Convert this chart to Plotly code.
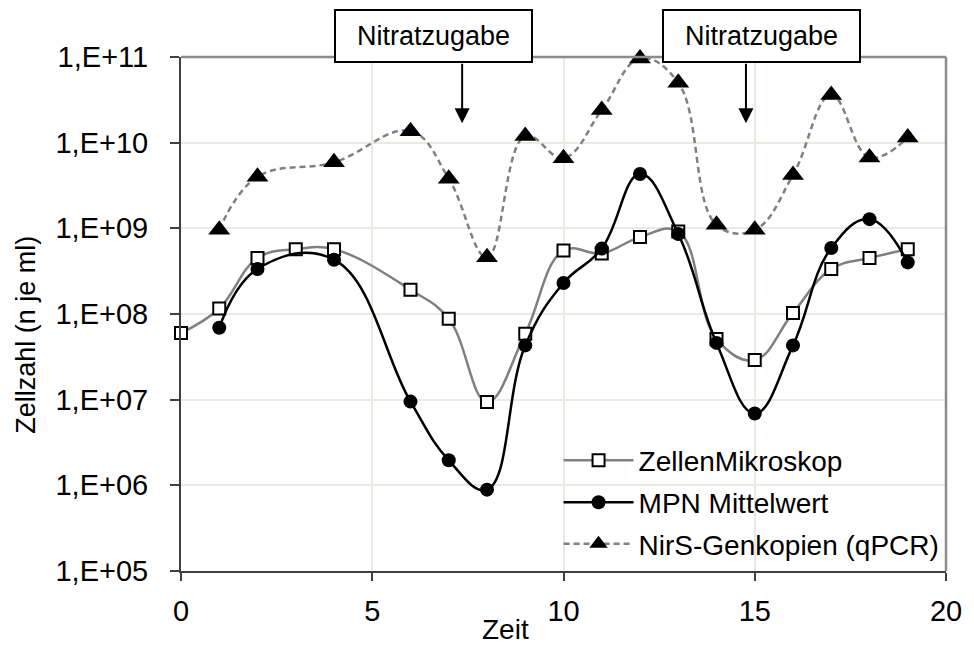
import plotly.graph_objects as go

# ---- data ----
zeit_zellen = [0, 1, 2, 3, 4, 6, 7, 8, 9, 10, 11, 12, 13, 14, 15, 16, 17, 18, 19]
zellen_mikroskop = [6.0e7, 1.16e8, 4.5e8, 5.7e8, 5.7e8, 1.92e8, 8.8e7, 9.4e6, 5.9e7,
                    5.5e8, 5.1e8, 7.9e8, 9.2e8, 5.1e7, 2.9e7, 1.03e8, 3.35e8, 4.5e8, 5.7e8]

zeit_mpn = [1, 2, 4, 6, 7, 8, 9, 10, 11, 12, 13, 14, 15, 16, 17, 18, 19]
mpn_mittelwert = [6.9e7, 3.35e8, 4.3e8, 9.5e6, 1.96e6, 8.9e5, 4.3e7, 2.3e8, 5.8e8,
                  4.3e9, 8.6e8, 4.6e7, 6.9e6, 4.3e7, 5.9e8, 1.28e9, 4.0e8]

zeit_nirs = [1, 2, 4, 6, 7, 8, 9, 10, 11, 12, 13, 14, 15, 16, 17, 18, 19]
nirs_genkopien = [9.6e8, 4.0e9, 5.9e9, 1.36e10, 3.8e9, 4.6e8, 1.2e10, 6.6e9, 2.4e10,
                  9.6e10, 5.0e10, 1.1e9, 9.6e8, 4.2e9, 3.6e10, 6.7e9, 1.15e10]

y_tickvals = [1e5, 1e6, 1e7, 1e8, 1e9, 1e10, 1e11]
y_ticktext = ["1,E+05", "1,E+06", "1,E+07", "1,E+08", "1,E+09", "1,E+10", "1,E+11"]
x_tickvals = [0, 5, 10, 15, 20]

annot_text = "Nitratzugabe"
annot_x = [7.35, 14.77]

FONT = "Liberation Sans, Arial, sans-serif"

fig = go.Figure()

fig.add_trace(go.Scatter(
    x=zeit_zellen, y=zellen_mikroskop, name="ZellenMikroskop",
    mode="lines+markers", line=dict(color="#808080", width=2.5, shape="spline", smoothing=1.15),
    marker=dict(symbol="square", size=12, color="white", line=dict(color="black", width=2)),
    cliponaxis=False, legend="legend", showlegend=True))

fig.add_trace(go.Scatter(
    x=zeit_mpn, y=mpn_mittelwert, name="MPN Mittelwert",
    mode="lines+markers", line=dict(color="black", width=2.5, shape="spline", smoothing=1.2),
    marker=dict(symbol="circle", size=14, color="black"),
    cliponaxis=False, legend="legend2", showlegend=True))

fig.add_trace(go.Scatter(
    x=zeit_nirs, y=nirs_genkopien, name="NirS-Genkopien (qPCR)",
    mode="lines+markers", line=dict(color="#808080", width=2.5, dash="6px,4px", shape="spline", smoothing=1.15),
    marker=dict(symbol="triangle-up", size=19, color="black"),
    cliponaxis=False, legend="legend3", showlegend=True))

L, R, T, B = 181, 19, 57, 75
W, H = 974, 646

leg_common = dict(bgcolor="rgba(0,0,0,0)", borderwidth=0, font=dict(family=FONT, size=28, color="black"),
                  xanchor="left", yanchor="middle", itemwidth=70)
pw = W - L - R
ph = H - T - B
def px_to_paper_x(px):
    return (px - L) / pw
def px_to_paper_y(py):
    return (H - B - py) / ph

annotations = []
for xa in annot_x:
    annotations.append(dict(x=xa, y=10.228, xref="x", yref="y", text="", showarrow=True,
                            ax=0, ay=-61, arrowhead=2, arrowsize=1.5, arrowwidth=2,
                            arrowcolor="black", standoff=0))
for cx in [436.5, 768.5]:
    annotations.append(dict(x=px_to_paper_x(cx), y=px_to_paper_y(36), xref="paper", yref="paper",
                            text=annot_text, showarrow=False, xanchor="center", yanchor="middle",
                            font=dict(family=FONT, size=27, color="black"),
                            bgcolor="white", bordercolor="black", borderwidth=2,
                            width=193, height=48))
annotations.append(dict(x=px_to_paper_x(24), y=px_to_paper_y(335), xref="paper", yref="paper",
                        text="Zellzahl (n je ml)", textangle=-90, showarrow=False,
                        xanchor="center", yanchor="middle",
                        font=dict(family=FONT, size=27, color="black")))
annotations.append(dict(x=px_to_paper_x(509), y=px_to_paper_y(629), xref="paper", yref="paper",
                        text="Zeit", showarrow=False, xanchor="center", yanchor="middle",
                        font=dict(family=FONT, size=28, color="black")))

fig.update_layout(
    width=W, height=H,
    margin=dict(l=L, r=R, t=T, b=B),
    paper_bgcolor="white", plot_bgcolor="white",
    font=dict(family=FONT, color="black"),
    showlegend=True,
    legend=dict(x=px_to_paper_x(563), y=px_to_paper_y(460.5), **leg_common),
    legend2=dict(x=px_to_paper_x(563), y=px_to_paper_y(502.5), **leg_common),
    legend3=dict(x=px_to_paper_x(563), y=px_to_paper_y(544), **leg_common),
    annotations=annotations,
    shapes=[
        dict(type="line", xref="paper", yref="paper", x0=0, x1=1, y0=1, y1=1,
             line=dict(color="#8C8C8C", width=2.5), layer="above"),
        dict(type="line", xref="paper", yref="paper", x0=1, x1=1, y0=0, y1=1,
             line=dict(color="#8C8C8C", width=2.5), layer="above"),
    ],
)

fig.update_xaxes(range=[0, 20], tickvals=x_tickvals, showgrid=True, gridcolor="#ECE9DF", gridwidth=2,
                 showline=True, linecolor="#404040", linewidth=2, ticks="outside", ticklen=8,
                 tickwidth=1.5, tickcolor="#404040", zeroline=False,
                 tickfont=dict(family=FONT, size=29, color="black"), ticklabelstandoff=5)
fig.update_yaxes(type="log", range=[5, 11], tickvals=y_tickvals, ticktext=y_ticktext,
                 showgrid=True, gridcolor="#ECE9DF", gridwidth=2,
                 showline=True, linecolor="#404040", linewidth=2, ticks="outside", ticklen=9,
                 tickwidth=1.5, tickcolor="#404040", zeroline=False,
                 tickfont=dict(family=FONT, size=29, color="black"), ticklabelstandoff=16)

fig.write_html("out.html", config={"displayModeBar": False},
               post_script="document.body.style.margin='0';")
